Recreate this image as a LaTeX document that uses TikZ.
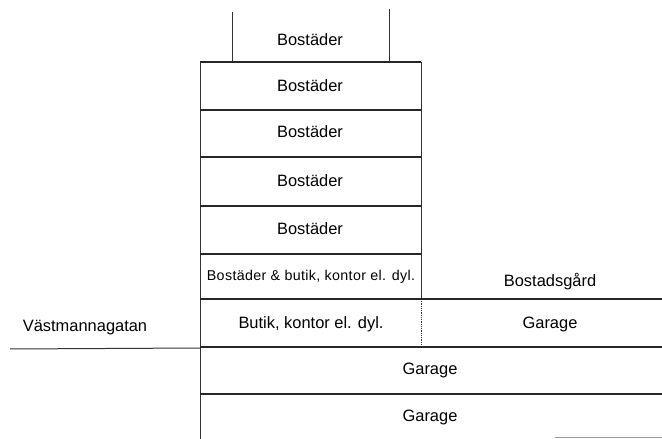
\documentclass[tikz,border=0pt]{standalone}
\usepackage{fontspec}
\setmainfont{Liberation Sans}
\begin{document}
\begin{tikzpicture}[x=1bp,y=-1bp,
  floor/.style={line width=1.6bp,black!85},
  wall/.style={line width=0.8bp,black!80},
  lbl/.style={font=\fontsize{16.5}{18}\selectfont,inner sep=0pt},
  small/.style={font=\fontsize{14.3}{16}\selectfont\addfontfeature{LetterSpace=2.5},inner sep=0pt}]
\useasboundingbox (0,0) rectangle (662,439);
% top box walls
\draw[wall] (232,12) -- (232,62);
\draw[wall] (389,9) -- (389,62);
% main column walls
\draw[wall] (200,62) -- (200,439);
\draw[wall] (421,62) -- (421,299);
\draw[wall,densely dotted] (421,299) -- (421,346);
% floors
\draw[floor] (200,62) -- (421,62);
\draw[floor] (200,110) -- (421,110);
\draw[floor] (200,157) -- (421,157);
\draw[floor] (200,206) -- (421,206);
\draw[floor] (200,254) -- (421,254);
\draw[floor] (200,299) -- (662,299);
\draw[floor] (200,347) -- (662,347);
\draw[floor] (200,394) -- (662,394);
\draw[line width=1bp,black!40] (555,437) -- (662,437);
% street
\draw[line width=1bp,black!80] (10,349) -- (200,348);
% labels
\node[lbl] (b0) at (310,40) {Bostäder};
\node[lbl] (b1) at (310,86) {Bostäder};
\node[lbl] (b2) at (310,132) {Bostäder};
\node[lbl] (b3) at (310,181) {Bostäder};
\node[lbl] (b4) at (310,229) {Bostäder};
\node[small] (bb) at (311,277) {Bostäder \& butik, kontor el. dyl.};
\node[lbl] (bk) at (311,324) {Butik, kontor el. dyl.};
\node[lbl] (bg) at (550,282) {Bostadsgård};
\node[lbl] (g0) at (550,324) {Garage};
\node[lbl] (g1) at (430,370) {Garage};
\node[lbl] (g2) at (430,417) {Garage};
\node[lbl] (vm) at (85,328) {Västmannagatan};
\end{tikzpicture}
\end{document}
